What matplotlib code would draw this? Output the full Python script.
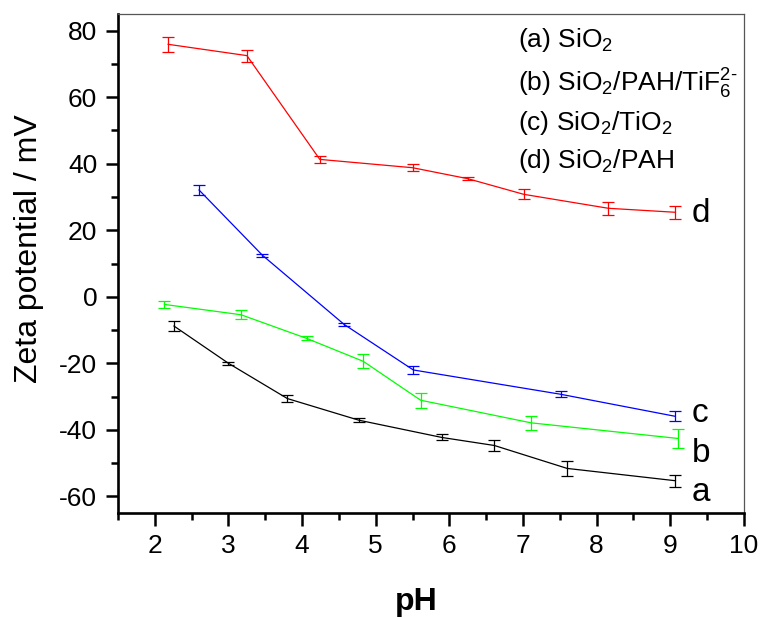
import matplotlib
matplotlib.use("Agg")
import matplotlib.pyplot as plt
from matplotlib.ticker import MultipleLocator

plt.rcParams['font.family'] = ['Liberation Sans', 'DejaVu Sans']
plt.rcParams['mathtext.fontset'] = 'custom'
plt.rcParams['mathtext.rm'] = 'Liberation Sans'
plt.rcParams['mathtext.it'] = 'Liberation Sans'
plt.rcParams['axes.unicode_minus'] = False

# (a) SiO2
ph_a = [2.26, 3.00, 3.80, 4.77, 5.90, 6.61, 7.60, 9.07]
zeta_a = [-8.8, -20.0, -30.6, -37.1, -42.3, -44.7, -51.6, -55.3]
err_a = [1.55, 0.5, 1.1, 0.6, 0.9, 1.6, 2.3, 1.8]

# (b) SiO2/PAH/TiF6 2-
ph_b = [2.13, 3.17, 4.06, 4.83, 5.61, 7.11, 9.11]
zeta_b = [-2.3, -5.4, -12.5, -19.4, -31.1, -37.9, -42.6]
err_b = [1.1, 1.3, 0.6, 2.1, 2.25, 2.15, 2.75]

# (c) SiO2/TiO2
ph_c = [2.60, 3.46, 4.57, 5.51, 7.51, 9.06]
zeta_c = [32.1, 12.5, -8.3, -22.0, -29.3, -35.9]
err_c = [1.65, 0.5, 0.4, 1.3, 0.9, 1.55]

# (d) SiO2/PAH
ph_d = [2.18, 3.25, 4.24, 5.50, 6.25, 7.01, 8.16, 9.07]
zeta_d = [75.9, 72.5, 41.3, 38.8, 35.5, 30.8, 26.6, 25.4]
err_d = [2.2, 1.8, 1.05, 1.0, 0.5, 1.5, 2.0, 1.9]

legend_lines = [
    "(a) SiO$_2$",
    "(b) SiO$_2$/PAH/TiF$_6^{2\\text{-}}$",
    "(c) SiO$_2$/TiO$_2$",
    "(d) SiO$_2$/PAH",
]
end_labels = ["a", "b", "c", "d"]
end_label_y = [-61.4, -49.8, -37.6, 22.6]

fig = plt.figure(figsize=(7.63, 6.18), dpi=100)
ax = fig.add_axes([0.1547, 0.1699, 0.8203, 0.8074])

series = [
    (ph_a, zeta_a, err_a, "#000000"),
    (ph_b, zeta_b, err_b, "#00FF00"),
    (ph_c, zeta_c, err_c, "#0000FF"),
    (ph_d, zeta_d, err_d, "#FF0000"),
]
for x, y, e, c in series:
    ax.errorbar(x, y, yerr=e, color=c, lw=0.9, elinewidth=0.9,
                capsize=4.3, capthick=0.9)

for lab, yy in zip(end_labels, end_label_y):
    ax.text(9.29, yy, lab, fontsize=24, ha='left', va='baseline')

# key text block, upper right
leg_y = [75.2, 61.7, 50.1, 38.7]
for txt, yy in zip(legend_lines, leg_y):
    ax.text(6.93, yy, txt, fontsize=19, ha='left', va='baseline')

ax.set_xlim(1.5, 10)
ax.set_ylim(-65, 85)
ax.xaxis.set_minor_locator(MultipleLocator(0.5))
ax.yaxis.set_minor_locator(MultipleLocator(10))
ax.set_xticks(range(2, 11))
ax.set_yticks(range(-60, 81, 20))

for s in ['left', 'bottom']:
    ax.spines[s].set_linewidth(1.9)
for s in ['top', 'right']:
    ax.spines[s].set_linewidth(0.9)
    ax.spines[s].set_color('#555555')

ax.tick_params(which='major', direction='out', length=9, width=1.8,
               labelsize=19, pad=6, top=False, right=False)
ax.tick_params(which='minor', direction='out', length=5, width=1.8,
               top=False, right=False)

ax.set_xlabel("pH", fontsize=23, fontweight='bold')
ax.xaxis.set_label_coords(0.476, -0.148)
ax.set_ylabel("Zeta potential / mV", fontsize=23)
ax.yaxis.set_label_coords(-0.118, 0.53)

fig.savefig("out.png", dpi=100)
